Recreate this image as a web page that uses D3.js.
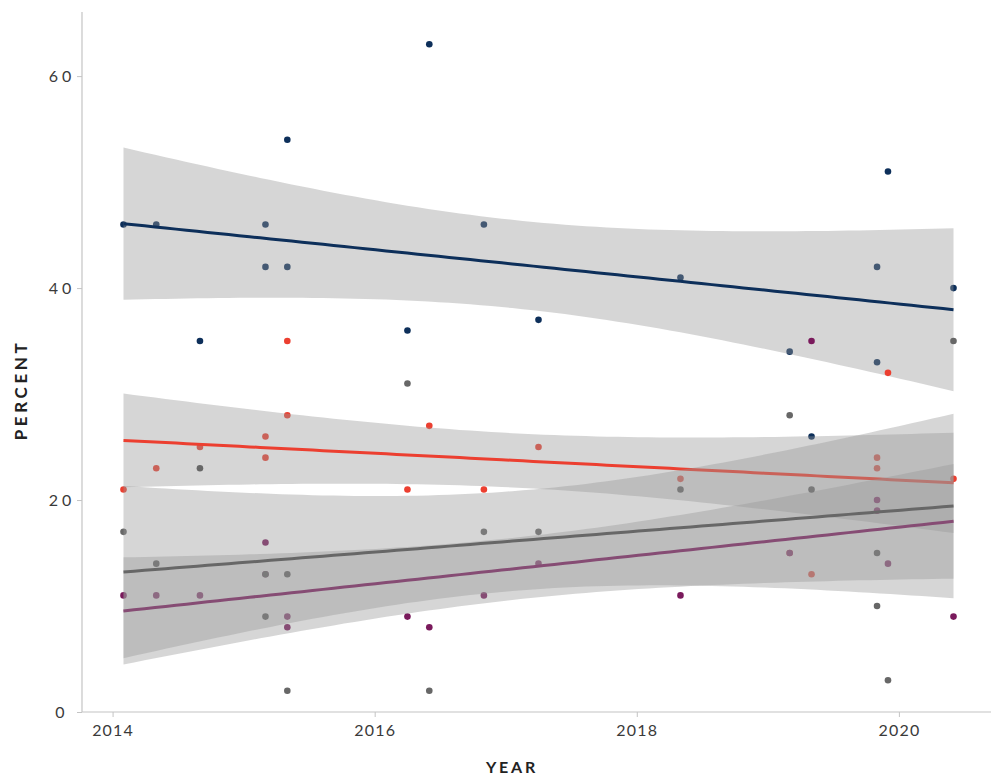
<!DOCTYPE html>
<html>
<head>
<meta charset="utf-8">
<script src="https://cdn.jsdelivr.net/npm/d3@7"></script>
<style>
  body { margin: 0; background: #fff; }
  svg { display: block; }
  .tick-label { font-family: Lato, "Open Sans", sans-serif; font-size: 16px; fill: #3a3a3a; }
  .axis-title { font-family: Lato, "Open Sans", sans-serif; font-weight: 700; fill: #222; }
</style>
</head>
<body>
<svg id="chart" width="991" height="776"></svg>
<script>
// Survey months (YYYY-MM); every series has one value per survey month
const surveyMonths = [
  "2014-02", "2014-05", "2014-09", "2015-03", "2015-03", "2015-05", "2015-05",
  "2016-04", "2016-06", "2016-11", "2017-04", "2018-05", "2019-03", "2019-05",
  "2019-11", "2019-11", "2019-12", "2020-06"
];
const navyValues   = [46, 46, 35, 46, 42, 54, 42, 36, 63, 46, 37, 41, 34, 26, 42, 33, 51, 40];
const redValues    = [21, 23, 25, 26, 24, 35, 28, 21, 27, 21, 25, 22, 15, 13, 24, 23, 32, 22];
const purpleValues = [11, 11, 11, 16, 13,  9,  8,  9,  8, 11, 14, 11, 15, 35, 20, 19, 14,  9];
const greyValues   = [17, 14, 23, 13,  9, 13,  2, 31,  2, 17, 17, 21, 28, 21, 15, 10,  3, 35];

const xTickValues = [2014, 2016, 2018, 2020];
const yTickValues = [0, 20, 40, 60];
const xTitle = "YEAR";
const yTitle = "PERCENT";

// Series in drawing order, each with its colour
const series = [
  { values: navyValues,   color: "#0d2f5a" },
  { values: redValues,    color: "#ec3f30" },
  { values: purpleValues, color: "#7a1a5c" },
  { values: greyValues,   color: "#676767" }
];

const svg = d3.select("#chart");
const toYear = str => { const [yr, mo] = str.split("-").map(Number); return yr + (mo - 1) / 12; };
const xs = surveyMonths.map(toYear);

// Scales: 5% padding on x, y starts at zero and pads 5% of the data range on top
const xExt = d3.extent(xs);
const xPad = (xExt[1] - xExt[0]) * 0.05;
const allValues = [].concat(navyValues, redValues, purpleValues, greyValues);
const yExt = d3.extent(allValues);
const yTop = yExt[1] + (yExt[1] - yExt[0]) * 0.05;

const x = d3.scaleLinear().domain([xExt[0] - xPad, xExt[1] + xPad]).range([82, 995]);
const y = d3.scaleLinear().domain([0, yTop]).range([712, 12]);

// Student t 0.975 quantile: integrate the symmetric density from 0 and find
// the point holding 95% of the positive half's mass
function tQuantile975(df) {
  const dens = t => Math.pow(1 + t * t / df, -(df + 1) / 2);
  const simpson = (lo, hi, steps) => {
    const h = (hi - lo) / steps;
    let acc = dens(lo) + dens(hi);
    for (let i = 1; i < steps; i++) acc += dens(lo + i * h) * (i % 2 ? 4 : 2);
    return acc * h / 3;
  };
  const half = simpson(0, 200, 40000);
  let a = 0, b = 10;
  for (let k = 0; k < 60; k++) {
    const mid = (a + b) / 2;
    if (simpson(0, mid, 4000) / half < 0.95) a = mid; else b = mid;
  }
  return (a + b) / 2;
}

// Ordinary least squares with 95% confidence band for the mean
function lmFit(xv, yv) {
  const n = xv.length;
  const mx = d3.mean(xv), my = d3.mean(yv);
  let sxx = 0, sxy = 0;
  for (let i = 0; i < n; i++) { sxx += (xv[i] - mx) ** 2; sxy += (xv[i] - mx) * (yv[i] - my); }
  const slope = sxy / sxx, icpt = my - slope * mx;
  let sse = 0;
  for (let i = 0; i < n; i++) sse += (yv[i] - (icpt + slope * xv[i])) ** 2;
  const s2 = sse / (n - 2);
  const tq = tQuantile975(n - 2);
  const grid = d3.range(80).map(i => xExt[0] + (xExt[1] - xExt[0]) * i / 79);
  return grid.map(gx => {
    const fit = icpt + slope * gx;
    const se = Math.sqrt(s2 * (1 / n + (gx - mx) ** 2 / sxx));
    return { x: gx, fit, lo: fit - tq * se, hi: fit + tq * se };
  });
}

// Axes
const axisColor = "#c4c4c4";
svg.append("line").attr("x1", x.range()[0]).attr("x2", x.range()[1])
  .attr("y1", y(0)).attr("y2", y(0)).attr("stroke", axisColor).attr("stroke-width", 1.2);
svg.append("line").attr("x1", x.range()[0]).attr("x2", x.range()[0])
  .attr("y1", y.range()[1]).attr("y2", y(0)).attr("stroke", axisColor).attr("stroke-width", 1.2);

const yAxis = d3.axisLeft(y).tickValues(yTickValues).tickSize(5).tickFormat(d3.format("d"));
const gy = svg.append("g").attr("transform", `translate(${x.range()[0]},0)`).call(yAxis);
gy.select(".domain").remove();
gy.selectAll(".tick line").attr("stroke", axisColor);
gy.selectAll(".tick text").attr("class", "tick-label").style("letter-spacing", "4px")
  .attr("font-family", null).attr("font-size", null)
  .attr("text-anchor", "middle").attr("x", -20);

const xAxis = d3.axisBottom(x).tickValues(xTickValues).tickSize(5).tickPadding(8).tickFormat(d3.format("d"));
const gx = svg.append("g").attr("transform", `translate(0,${y(0)})`).call(xAxis);
gx.select(".domain").remove();
gx.selectAll(".tick line").attr("stroke", axisColor);
gx.selectAll(".tick text").attr("class", "tick-label").style("letter-spacing", "1.2px")
  .attr("font-family", null).attr("font-size", null);

svg.append("text").attr("class", "axis-title")
  .style("font-size", "16px").style("letter-spacing", "2.8px")
  .attr("x", 512).attr("y", 773).attr("text-anchor", "middle").text(xTitle);
svg.append("text").attr("class", "axis-title")
  .style("font-size", "17px").style("letter-spacing", "3.6px")
  .attr("transform", "translate(27,390) rotate(-90)")
  .attr("text-anchor", "middle").text(yTitle);

// Per series: points, then confidence ribbon, then fitted line
const area = d3.area().x(d => x(d.x)).y0(d => y(d.lo)).y1(d => y(d.hi));
const line = d3.line().x(d => x(d.x)).y(d => y(d.fit));

series.forEach(ser => {
  const g = svg.append("g");
  g.selectAll("circle").data(ser.values).join("circle")
    .attr("cx", (v, i) => x(xs[i])).attr("cy", v => y(v)).attr("r", 3.3).attr("fill", ser.color);
  const band = lmFit(xs, ser.values);
  g.append("path").datum(band).attr("d", area).attr("fill", "#999999").attr("fill-opacity", 0.4);
  g.append("path").datum(band).attr("d", line).attr("fill", "none")
    .attr("stroke", ser.color).attr("stroke-width", 3);
});
</script>
</body>
</html>
